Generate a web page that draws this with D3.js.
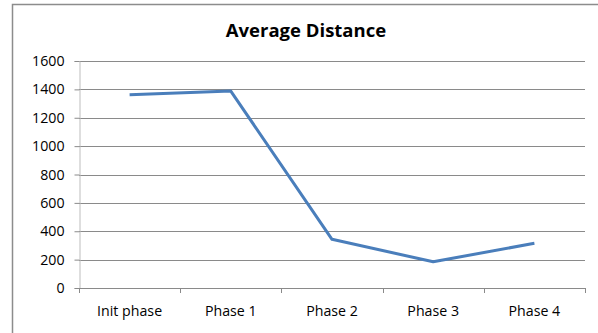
<!DOCTYPE html>
<html><head><meta charset="utf-8">
<script src="https://cdn.jsdelivr.net/npm/d3@7"></script>
<style>html,body{margin:0;padding:0;background:#fff;}</style>
</head><body>
<svg id="c" width="598" height="333"></svg>
<script>
const categories = ["Init phase", "Phase 1", "Phase 2", "Phase 3", "Phase 4"];
const values = [1362, 1388, 343, 185, 315];
const yTicks = [0, 200, 400, 600, 800, 1000, 1200, 1400, 1600];
const title = "Average Distance";

const svg = d3.select("#c");
const font = "'Open Sans', 'Noto Sans', sans-serif";
// chart frame
svg.append("path").attr("d", "M12.5,340 V4.5 H600").attr("fill","none").attr("stroke","#8c8c8c").attr("stroke-width",1.5);

const L = 79, R = 585, T = 61, B = 288;
const x = d3.scaleBand().domain(categories).range([L, R]);
const y = d3.scaleLinear().domain([0, 1600]).range([B, T]);

// gridlines
svg.append("g").selectAll("line").data(yTicks.filter(d=>d>0)).join("line")
  .attr("x1", L).attr("x2", R).attr("y1", d=>Math.round(y(d))+0.5).attr("y2", d=>Math.round(y(d))+0.5)
  .attr("stroke", "#8a8a8a").attr("stroke-width", 1);

// y axis
const ya = svg.append("g").attr("transform", `translate(${L+0.5},0)`)
  .call(d3.axisLeft(y).tickValues(yTicks).tickSize(5).tickPadding(10).tickFormat(d3.format("d")));
ya.select(".domain").attr("stroke", "#bdbdbd");
ya.selectAll(".tick line").attr("stroke", "#8a8a8a");
ya.selectAll("text").attr("font-family", font).attr("font-size", 14.2).attr("fill", "#000");

// x axis
const xa = svg.append("g").attr("transform", `translate(0,${Math.round(B)+0.5})`)
  .call(d3.axisBottom(x).tickSize(0).tickPadding(17));
xa.select(".domain").attr("stroke", "#8a8a8a").attr("d", `M${L},0H${R}`);
xa.selectAll("text").attr("font-family", font).attr("font-size", 14.2).attr("fill", "#000");
const bounds = [L, ...categories.map(c => x(c) + x.bandwidth())];
svg.append("g").selectAll("line").data(bounds).join("line")
  .attr("x1", d=>Math.round(d)+0.5).attr("x2", d=>Math.round(d)+0.5)
  .attr("y1", B).attr("y2", B+5).attr("stroke", "#8a8a8a");

// line
const line = d3.line().x((d,i)=>x(categories[i]) + x.bandwidth()/2).y(d=>y(d));
svg.append("path").datum(values).attr("d", line).attr("fill","none")
  .attr("stroke", "#4a7ebb").attr("stroke-width", 3).attr("stroke-linejoin","round");

// title
svg.append("text").attr("x", 306).attr("y", 37).attr("text-anchor","middle")
  .attr("font-family", font).attr("font-weight","bold").attr("font-size", 18.5).text(title);
</script>
</body></html>
